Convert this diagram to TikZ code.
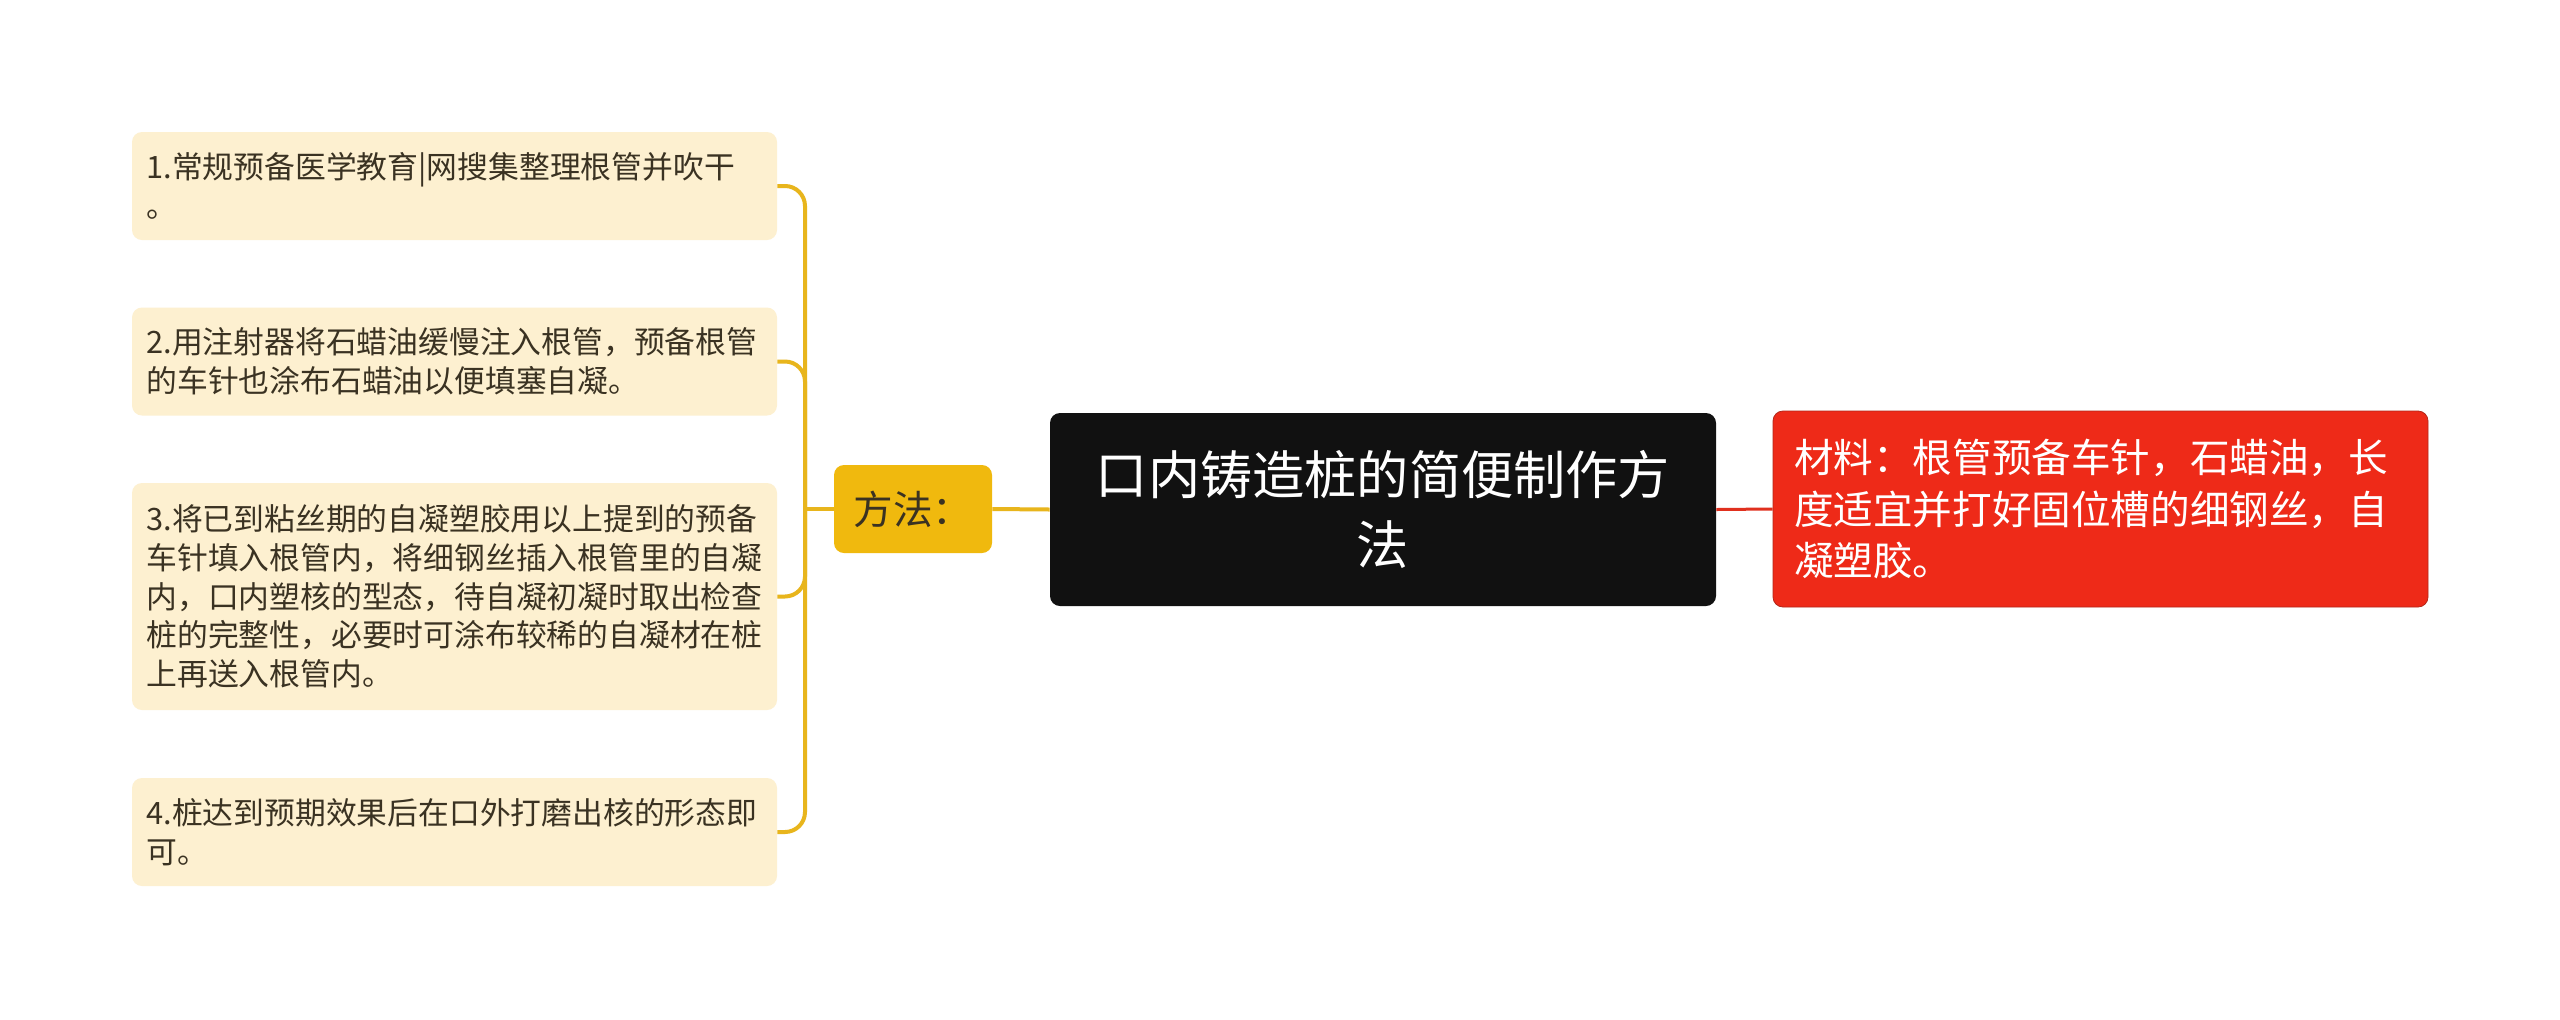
\documentclass[tikz,border=0pt]{standalone}
\usepackage{fontspec}
\setmainfont{Noto Sans CJK SC}
\definecolor{leafcol}{HTML}{FDF0D0}
\definecolor{goldcol}{HTML}{E8B51C}
\definecolor{methodcol}{HTML}{F0B90E}
\definecolor{rootcol}{HTML}{111111}
\definecolor{redcol}{HTML}{EE2A18}
\definecolor{redline}{HTML}{E0301E}
\definecolor{txtcol}{HTML}{3A3222}
\tikzset{
  leafbox/.style={fill=leafcol, rounded corners=5pt, text width=308pt, inner xsep=7.25pt, inner ysep=0pt,
    align=left, text=txtcol, font=\fontsize{15.4pt}{19.35pt}\selectfont},
  methodbox/.style={fill=methodcol, rounded corners=5pt, minimum width=79pt, minimum height=44pt, inner sep=0pt,
    text=txtcol, font=\fontsize{19.8pt}{25.7pt}\selectfont},
  rootbox/.style={fill=rootcol, rounded corners=5pt, text width=313pt, inner xsep=10pt, minimum height=96.5pt, inner ysep=0pt,
    align=center, text=white, font=\fontsize{26.1pt}{35pt}\selectfont},
  matbox/.style={fill=redcol, draw=redline!80!black, line width=0.4pt, rounded corners=5pt, text width=306.5pt, inner xsep=10.5pt, minimum height=98pt, inner ysep=0pt,
    align=left, text=white, font=\fontsize{19.8pt}{25.7pt}\selectfont},
  goldlink/.style={draw=goldcol, line width=2pt},
  redlink/.style={draw=redline, line width=1.5pt}
}
\begin{document}
\begin{tikzpicture}[x=0.5pt, y=-0.5pt]
\useasboundingbox[fill=white] (0,0) rectangle (2560,1019);

\node[leafbox, minimum height=54pt] (l1) at (454.5,186) {1.常规预备医学教育|网搜集整理根管并吹干\\。};
\node[leafbox, minimum height=54pt] (l2) at (454.5,361.5) {2.用注射器将石蜡油缓慢注入根管，预备根管\\的车针也涂布石蜡油以便填塞自凝。};
\node[leafbox, minimum height=113.5pt] (l3) at (454.5,596.5) {3.将已到粘丝期的自凝塑胶用以上提到的预备\\车针填入根管内，将细钢丝插入根管里的自凝\\内，口内塑核的型态，待自凝初凝时取出检查\\桩的完整性，必要时可涂布较稀的自凝材在桩\\上再送入根管内。};
\node[leafbox, minimum height=54pt] (l4) at (454.5,832) {4.桩达到预期效果后在口外打磨出核的形态即\\可。};

\node[methodbox] (m) at (913,509) {方法：};
\node[rootbox] (r) at (1383,509.5) {口内铸造桩的简便制作方\\法};
\node[matbox] (mat) at (2100.5,509) {材料：根管预备车针，石蜡油，长\\度适宜并打好固位槽的细钢丝，自\\凝塑胶。};

\coordinate (j) at (805,509);
\draw[goldlink] (r.west) -- (m.east);
\draw[goldlink] (m.west) -- (j);
\foreach \n in {l1,l2,l3,l4}{
  \draw[goldlink, rounded corners=10pt] (j) |- (\n.east);
}
\draw[redlink] (r.east) -- (mat.west);
\end{tikzpicture}
\end{document}
